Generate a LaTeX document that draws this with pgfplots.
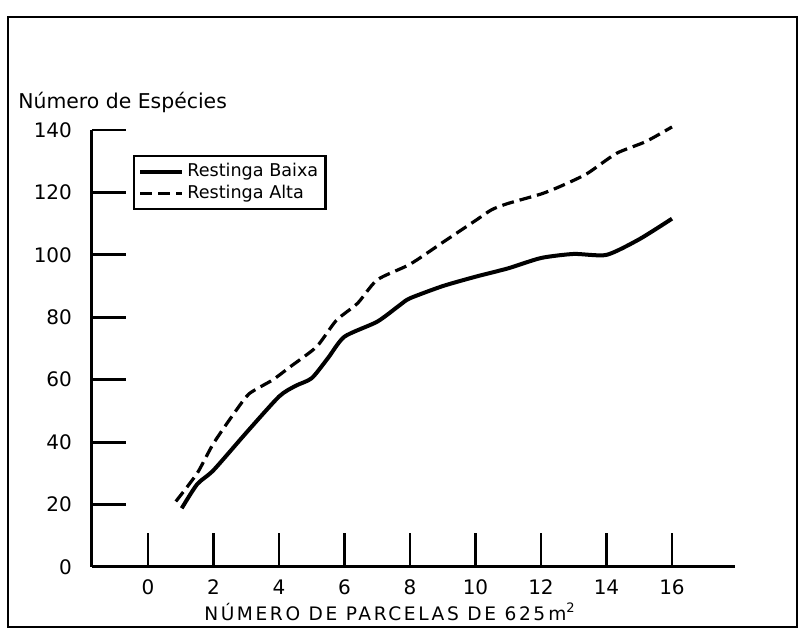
\documentclass[border=0pt]{standalone}
\usepackage{pgfplots}
\pgfplotsset{compat=1.18}
\usepackage{fontspec}
\setmainfont{DejaVu Sans}
\begin{document}
\begin{tikzpicture}
\begin{axis}[
  scale only axis, width=321.5pt, height=218.5pt,
  xmin=-1.71, xmax=17.92, ymin=0, ymax=140,
  axis x line=bottom, axis y line=left,
  every inner x axis line/.append style={-},
  every outer x axis line/.append style={-},
  every inner y axis line/.append style={-},
  every outer y axis line/.append style={-},
  axis line style={line width=1.5pt, black},
  tick align=inside, major tick length=17pt,
  tick style={line width=1.4pt, black},
  xtick={0,2,...,16}, ytick={0,20,...,140},
  /pgf/number format/assume math mode=true,
  tick label style={font=\fontsize{10}{12}\selectfont},
  yticklabel style={xshift=-6.5pt},
  xticklabel style={yshift=-3pt},
  clip=false,
  legend cell align=left,
  legend image code/.code={\draw[#1] (0pt,0pt) -- (21pt,0pt);},
  legend style={at={(axis cs:-0.46,132)}, anchor=north west, draw=black, line width=1.2pt,
    font=\fontsize{8.8}{10}\selectfont, row sep=-0.5pt, inner sep=2pt,
    nodes={inner sep=1.6pt}},
]
\addplot[black, line width=2pt, smooth, tension=0.4] coordinates {
 (1.03,18.8) (1.5,26.5) (2,31) (3,43) (4,54.6) (4.5,58) (5,60.5) (5.5,67) (6,73.8)
 (7,78.6) (7.7,84) (8,86.1) (9,90) (10,93) (11,95.7) (12,99) (13,100.3) (14,100)
 (15,105) (16,111.6)};
\addlegendentry{Restinga Baixa\hspace{16pt}}
\addplot[black, line width=1.6pt, dash pattern=on 6pt off 3pt, smooth, tension=0.4] coordinates {
 (0.85,21) (1.5,30) (2,39.6) (2.7,50.3) (3.1,55.6) (3.8,59.9) (4.35,64.2) (5.15,70.6)
 (5.75,79) (6.4,84.5) (7,92) (8,97) (9,104) (10,111) (10.5,114.5) (11,116.5) (12,119.5)
 (12.6,122) (13.4,126) (14.3,132.5) (15.2,136.3) (16,141)};
\addlegendentry{Restinga Alta}
\node[anchor=west, inner sep=0pt, font=\fontsize{10.2}{12}\selectfont] at (axis cs:-3.97,148.7) {Número de Espécies};
\node[font=\fontsize{9.3}{11}\selectfont\addfontfeatures{LetterSpace=14}] at (axis cs:7.39,-14.42) {NÚMERO DE PARCELAS DE 625\,m\textsuperscript{2}};
\draw[line width=1pt] (axis cs:-4.275,176.2) rectangle (axis cs:19.817,-19.22);
\path (axis cs:-4.519,181.67) rectangle (axis cs:19.878,-20.19);
\end{axis}
\end{tikzpicture}
\end{document}
